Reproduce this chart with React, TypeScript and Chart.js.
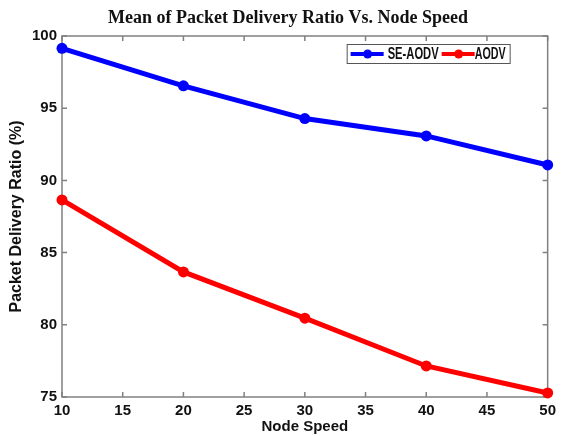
import React, { useEffect, useRef } from "react";
import { Chart, registerables } from "chart.js";
Chart.register(...registerables);

const nodeSpeeds = [10, 20, 30, 40, 50];
const seAodv = [99.15, 96.55, 94.28, 93.08, 91.07];
const aodv = [88.65, 83.66, 80.46, 77.15, 75.28];
const seriesNames = ["SE-AODV", "AODV"];
const seriesColors = ["#0000ff", "#ff0000"];
const titleText = "Mean of Packet Delivery Ratio Vs. Node Speed";
const xTitle = "Node Speed";
const yTitle = "Packet Delivery Ratio (%)";

const framePlugin = {
  id: "frame",
  afterLayout(chart: any) {
    const t = chart.titleBlock;
    if (t) {
      t.left += 12;
      t.right += 12;
    }
  },
  beforeDatasetsDraw(chart: any) {
    const { ctx, chartArea: a, scales } = chart;
    ctx.save();
    ctx.strokeStyle = "#808080";
    ctx.lineWidth = 1.5;
    ctx.strokeRect(a.left, a.top, a.right - a.left, a.bottom - a.top);
    const L = 5;
    ctx.beginPath();
    scales.x.ticks.forEach((t: any) => {
      const px = scales.x.getPixelForValue(t.value);
      ctx.moveTo(px, a.bottom);
      ctx.lineTo(px, a.bottom - L);
      ctx.moveTo(px, a.top);
      ctx.lineTo(px, a.top + L);
    });
    scales.y.ticks.forEach((t: any) => {
      const py = scales.y.getPixelForValue(t.value);
      ctx.moveTo(a.left, py);
      ctx.lineTo(a.left + L, py);
      ctx.moveTo(a.right, py);
      ctx.lineTo(a.right - L, py);
    });
    ctx.stroke();
    ctx.restore();
  },
};

const legendPlugin = {
  id: "boxLegend",
  afterDraw(chart: any) {
    const { ctx, chartArea: a } = chart;
    const bx = a.right - 201;
    const by = a.top + 8;
    const bw = 163;
    const bh = 19;
    ctx.save();
    ctx.fillStyle = "#ffffff";
    ctx.fillRect(bx, by, bw, bh);
    ctx.strokeStyle = "#555555";
    ctx.lineWidth = 1;
    ctx.strokeRect(bx + 0.5, by + 0.5, bw, bh);
    ctx.font = "bold 16px 'Liberation Sans', Arial, sans-serif";
    ctx.textBaseline = "middle";
    const cy = by + bh / 2 + 0.5;
    const starts = [4, 95];
    const textWidths = [51, 31];
    seriesNames.forEach((name, i) => {
      const x = bx + starts[i];
      ctx.strokeStyle = seriesColors[i];
      ctx.fillStyle = seriesColors[i];
      ctx.lineWidth = 4;
      ctx.beginPath();
      ctx.moveTo(x, cy);
      ctx.lineTo(x + 33, cy);
      ctx.stroke();
      ctx.beginPath();
      ctx.arc(x + 17, cy, 4.5, 0, Math.PI * 2);
      ctx.fill();
      ctx.fillStyle = "#111111";
      const tx = x + (i === 0 ? 37 : 33);
      const natural = ctx.measureText(name).width;
      const sx = textWidths[i] / natural;
      ctx.save();
      ctx.translate(tx, cy + 0.5);
      ctx.scale(sx, 1);
      ctx.fillText(name, 0, 0);
      ctx.restore();
    });
    ctx.restore();
  },
};

export default function App() {
  const ref = useRef<HTMLCanvasElement>(null);
  useEffect(() => {
    if (!ref.current) return;
    const tickFont = { family: "'Liberation Sans', Arial, sans-serif", size: 15, weight: "bold" as const };
    const chart = new Chart(ref.current, {
      type: "line",
      data: {
        datasets: [seAodv, aodv].map((vals, i) => ({
          label: seriesNames[i],
          data: nodeSpeeds.map((x, j) => ({ x, y: vals[j] })),
          borderColor: seriesColors[i],
          backgroundColor: seriesColors[i],
          borderWidth: 5,
          pointRadius: 5.5,
          pointStyle: "circle",
          pointBorderWidth: 0,
          tension: 0,
          clip: false,
        })),
      },
      options: {
        animation: false,
        responsive: false,
        layout: { padding: { left: 0, right: 9, top: 0, bottom: 0 } },
        plugins: {
          legend: { display: false },
          tooltip: { enabled: false },
          title: {
            display: true,
            text: titleText,
            color: "#111111",
            font: { family: "'Liberation Serif', 'Times New Roman', serif", size: 18, weight: "bold" },
            padding: { top: 8, bottom: 6.4 },
          },
        },
        scales: {
          x: {
            type: "linear",
            min: 10,
            max: 50,
            grid: { display: false, drawTicks: false },
            border: { display: false },
            ticks: { stepSize: 5, font: tickFont, color: "#111111", padding: 5, maxRotation: 0, autoSkip: false },
            title: { display: true, text: xTitle, font: { ...tickFont, size: 15 }, color: "#111111", padding: { top: 0, bottom: 0 } },
            afterFit: (s: any) => { s.height = 39; },
          },
          y: {
            type: "linear",
            min: 75,
            max: 100,
            grid: { display: false, drawTicks: false },
            border: { display: false },
            ticks: { stepSize: 5, font: tickFont, color: "#111111", padding: 5 },
            title: { display: true, text: yTitle, font: { ...tickFont, size: 16 }, color: "#111111", padding: { top: 7.4, bottom: 7.4 } },
            afterFit: (s: any) => { s.width = 62; },
          },
        },
      } as any,
      plugins: [framePlugin, legendPlugin],
    });
    return () => chart.destroy();
  }, []);
  return (
    <div style={{ position: "fixed", left: 0, top: 0, width: 561, height: 436, background: "#ffffff" }}>
      <canvas ref={ref} width={561} height={436} />
    </div>
  );
}
